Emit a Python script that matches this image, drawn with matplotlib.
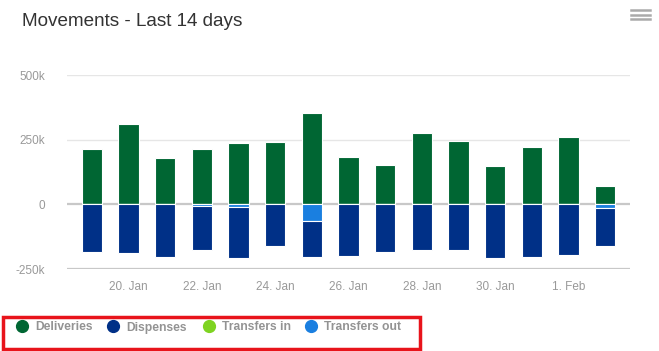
import matplotlib
matplotlib.use("Agg")
import matplotlib.pyplot as plt
from matplotlib.lines import Line2D
from matplotlib.patches import Rectangle
import numpy as np

plt.rcParams['font.family'] = ['Liberation Sans', 'DejaVu Sans']

dates = ["19. Jan", "20. Jan", "21. Jan", "22. Jan", "23. Jan", "24. Jan", "25. Jan",
         "26. Jan", "27. Jan", "28. Jan", "29. Jan", "30. Jan", "31. Jan", "1. Feb", "2. Feb"]
deliveries = [214000, 312000, 178000, 214000, 237000, 242000, 355000,
              184000, 153000, 275000, 246000, 149000, 221000, 262000, 72000]
dispenses = [-185000, -188000, -202000, -170000, -196000, -163000, -138000,
             -199000, -186000, -178000, -178000, -206000, -202000, -194000, -148000]
transfers_in = [0] * 15
transfers_out = [0, 0, 0, -8000, -10000, 0, -64000,
                 0, 0, 0, 0, 0, 0, 0, -15000]
series_names = ["Deliveries", "Dispenses", "Transfers in", "Transfers out"]
colors = ["#006633", "#003087", "#7ed321", "#1a7fe0"]
yticks = [-250000, 0, 250000, 500000]
ytick_labels = ["-250k", "0", "250k", "500k"]

W, H = 659, 351
fig = plt.figure(figsize=(W / 100, H / 100), dpi=100)
ax = fig.add_axes([67 / W, 1 - 269 / H, (630 - 67) / W, (269 - 75) / H])

x = np.arange(len(dates))
bw = 0.56
kw = dict(width=bw, edgecolor="white", linewidth=0.8, zorder=3)
ax.bar(x, deliveries, color=colors[0], **kw)
ax.bar(x, transfers_in, color=colors[2], **kw)
ax.bar(x, transfers_out, color=colors[3], **kw)
ax.bar(x, dispenses, bottom=transfers_out, color=colors[1], **kw)

ax.set_xlim(-0.68, len(dates) - 1 + 0.68)
ax.set_ylim(-250000, 500000)
ax.set_yticks(yticks)
ax.set_yticklabels(ytick_labels)
for y in [250000, 500000]:
    ax.axhline(y, color="#e6e6e6", lw=1, zorder=1)
ax.axhline(0, color="#c8c8c8", lw=1.6, zorder=2)
ax.axhline(-250000, color="#c8c8c8", lw=1.6, zorder=2)

ax.set_xticks(x[1::2])
ax.set_xticklabels(dates[1::2])
ax.tick_params(axis="both", length=0, colors="#999999", labelsize=8.5)
ax.tick_params(axis="y", pad=16)
ax.tick_params(axis="x", pad=9)
for s in ax.spines.values():
    s.set_visible(False)

fig.text(22 / W, 1 - 22 / H, "Movements - Last 14 days", fontsize=13.6, color="#333333",
         va="center", ha="left")

# hamburger menu
for yy in [10, 14.5, 19]:
    fig.add_artist(Line2D([631 / W, 650 / W], [1 - yy / H, 1 - yy / H],
                          color="#aaaaaa", lw=1.8, transform=fig.transFigure))

# legend
lx = [22, 113, 209, 311]
for i, name in enumerate(series_names):
    fig.add_artist(Line2D([lx[i] / W], [1 - 326 / H], marker="o", markersize=8.5,
                          color=colors[i], linestyle="none", transform=fig.transFigure))
    fig.text((lx[i] + 13) / W, 1 - 330.5 / H, name, fontsize=8.7, fontweight="bold",
             color="#939393", va="baseline", ha="left")

fig.add_artist(Rectangle((2.5 / W, 1 - 348.5 / H), (420 - 2.5) / W, (348.5 - 316.5) / H,
                         transform=fig.transFigure, fill=False, edgecolor="#e8141b", lw=2.5))

fig.savefig("out.png", dpi=100)
